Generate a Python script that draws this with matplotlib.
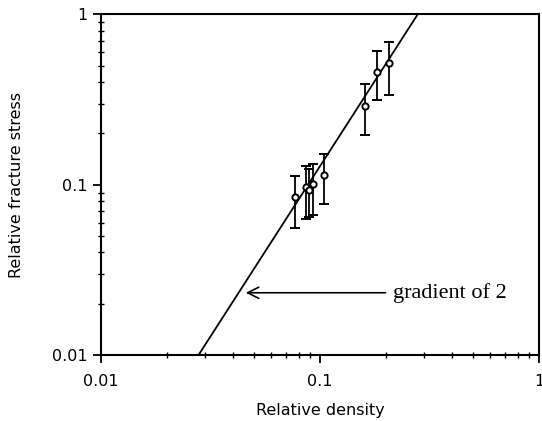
import numpy as np
import matplotlib
matplotlib.use("Agg")
import matplotlib.pyplot as plt
from matplotlib.ticker import LogLocator, NullFormatter, FixedLocator, FixedFormatter

# data
density = [0.0767, 0.0863, 0.0893, 0.0925, 0.104, 0.1607, 0.182, 0.2066]
stress = [0.0847, 0.0964, 0.0926, 0.101, 0.1145, 0.291, 0.462, 0.52]
err_hi = [0.112, 0.128, 0.124, 0.133, 0.152, 0.388, 0.614, 0.687]
err_lo = [0.0558, 0.063, 0.0645, 0.0667, 0.0773, 0.197, 0.313, 0.338]

# fitted line, gradient 2
line_x = [0.0279, 0.279]
line_y = [0.01, 1.0]

xticks = [0.01, 0.1, 1]
xtick_labels = ["0.01", "0.1", "1"]

fig = plt.figure(figsize=(5.42, 4.21), dpi=100)
ax = fig.add_axes([0.1863, 0.1568, 0.8082, 0.8088])

ax.plot(line_x, line_y, color="black", lw=1.3)

yerr = [np.array(stress) - np.array(err_lo), np.array(err_hi) - np.array(stress)]
ax.errorbar(density, stress, yerr=yerr, fmt="o", ms=4.5, mfc="white", mec="black",
            mew=1.4, ecolor="black", elinewidth=1.3, capsize=3.5, capthick=1.3)

ax.set_xscale("log")
ax.set_yscale("log")
ax.set_xlim(0.01, 1)
ax.set_ylim(0.01, 1)

ax.xaxis.set_major_locator(FixedLocator(xticks))
ax.xaxis.set_major_formatter(FixedFormatter(xtick_labels))
ax.yaxis.set_major_locator(FixedLocator(xticks))
ax.yaxis.set_major_formatter(FixedFormatter(xtick_labels))
ax.xaxis.set_minor_locator(LogLocator(base=10, subs=np.arange(2, 10)))
ax.yaxis.set_minor_locator(LogLocator(base=10, subs=np.arange(2, 10)))
ax.xaxis.set_minor_formatter(NullFormatter())
ax.yaxis.set_minor_formatter(NullFormatter())

ax.tick_params(which="major", direction="out", length=6, width=1.3, labelsize=11.5)
ax.tick_params(which="minor", direction="inout", length=4, width=1.0)
ax.tick_params(axis="x", which="major", pad=8)
ax.tick_params(top=False, right=False, which="both")
for s in ax.spines.values():
    s.set_linewidth(1.5)

ax.set_xlabel("Relative density", fontsize=11.5, labelpad=10)
ax.set_ylabel("Relative fracture stress", fontsize=11.5, labelpad=20)

ax.annotate("", xy=(0.0445, 0.0232), xytext=(0.205, 0.0232),
            arrowprops=dict(arrowstyle="->", color="black", lw=1.2,
                            mutation_scale=20))
ax.text(0.216, 0.0232, "gradient of 2", family="Liberation Serif", fontsize=16,
        va="center", ha="left")

fig.savefig("out.png", dpi=100)
